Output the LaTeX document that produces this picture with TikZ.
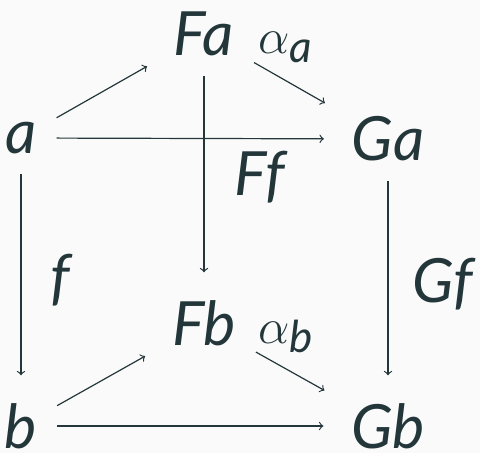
\documentclass[tikz,border=0pt]{standalone}
\usepackage{fontspec}
\setmainfont{Lato}
\definecolor{mteal}{HTML}{23373B}
\definecolor{mbg}{HTML}{FAFAFA}
\begin{document}
\begin{tikzpicture}[x=0.5pt,y=-0.5pt,>=to,
  obj/.style={inner sep=0pt, outer sep=10pt, font=\fontsize{30.5}{30.5}\selectfont\itshape, text=mteal},
  lbl/.style={inner sep=0pt, font=\fontsize{30.5}{30.5}\selectfont\itshape, text=mteal},
  arr/.style={->, draw=mteal, line width=0.6pt, shorten >=4pt}]
\fill[mbg] (0,0) rectangle (480,453);
\useasboundingbox (0,0) rectangle (480,453);
% objects
\node[obj] (a)  at (21,138) {a};
\node[obj] (Fa) at (204,34) {Fa};
\node[obj] (Ga) at (388,139) {Ga};
\node[obj] (b)  at (21,426) {b};
\node[obj] (Fb) at (204,323) {Fb};
\node[obj] (Gb) at (388,426) {Gb};
% labels
\node[lbl] (Ff) at (260,177) {Ff};
\node[lbl] (f)  at (60,280) {f};
\node[lbl] (Gf) at (443,284) {Gf};
\node[lbl, anchor=base west] (alphaa) at (258,54)
  {{\fontsize{37}{37}\selectfont$\alpha$}\raisebox{-4.5pt}{\fontsize{22}{22}\selectfont\itshape a}};
\node[lbl, anchor=base west] (alphab) at (258,343)
  {{\fontsize{36}{36}\selectfont$\alpha$}\raisebox{-4.5pt}{\fontsize{22}{22}\selectfont\itshape b}};
% arrows
\draw[arr] (a) -- (Fa);
\draw[arr] (a) -- (Ga);
\draw[arr] (Fa) -- (Ga);
\draw[arr] (Fa) -- (Fb);
\draw[arr] (a) -- (b);
\draw[arr] (Ga) -- (Gb);
\draw[arr] (b) -- (Fb);
\draw[arr] (b) -- (Gb);
\draw[arr] (Fb) -- (Gb);
\end{tikzpicture}
\end{document}
